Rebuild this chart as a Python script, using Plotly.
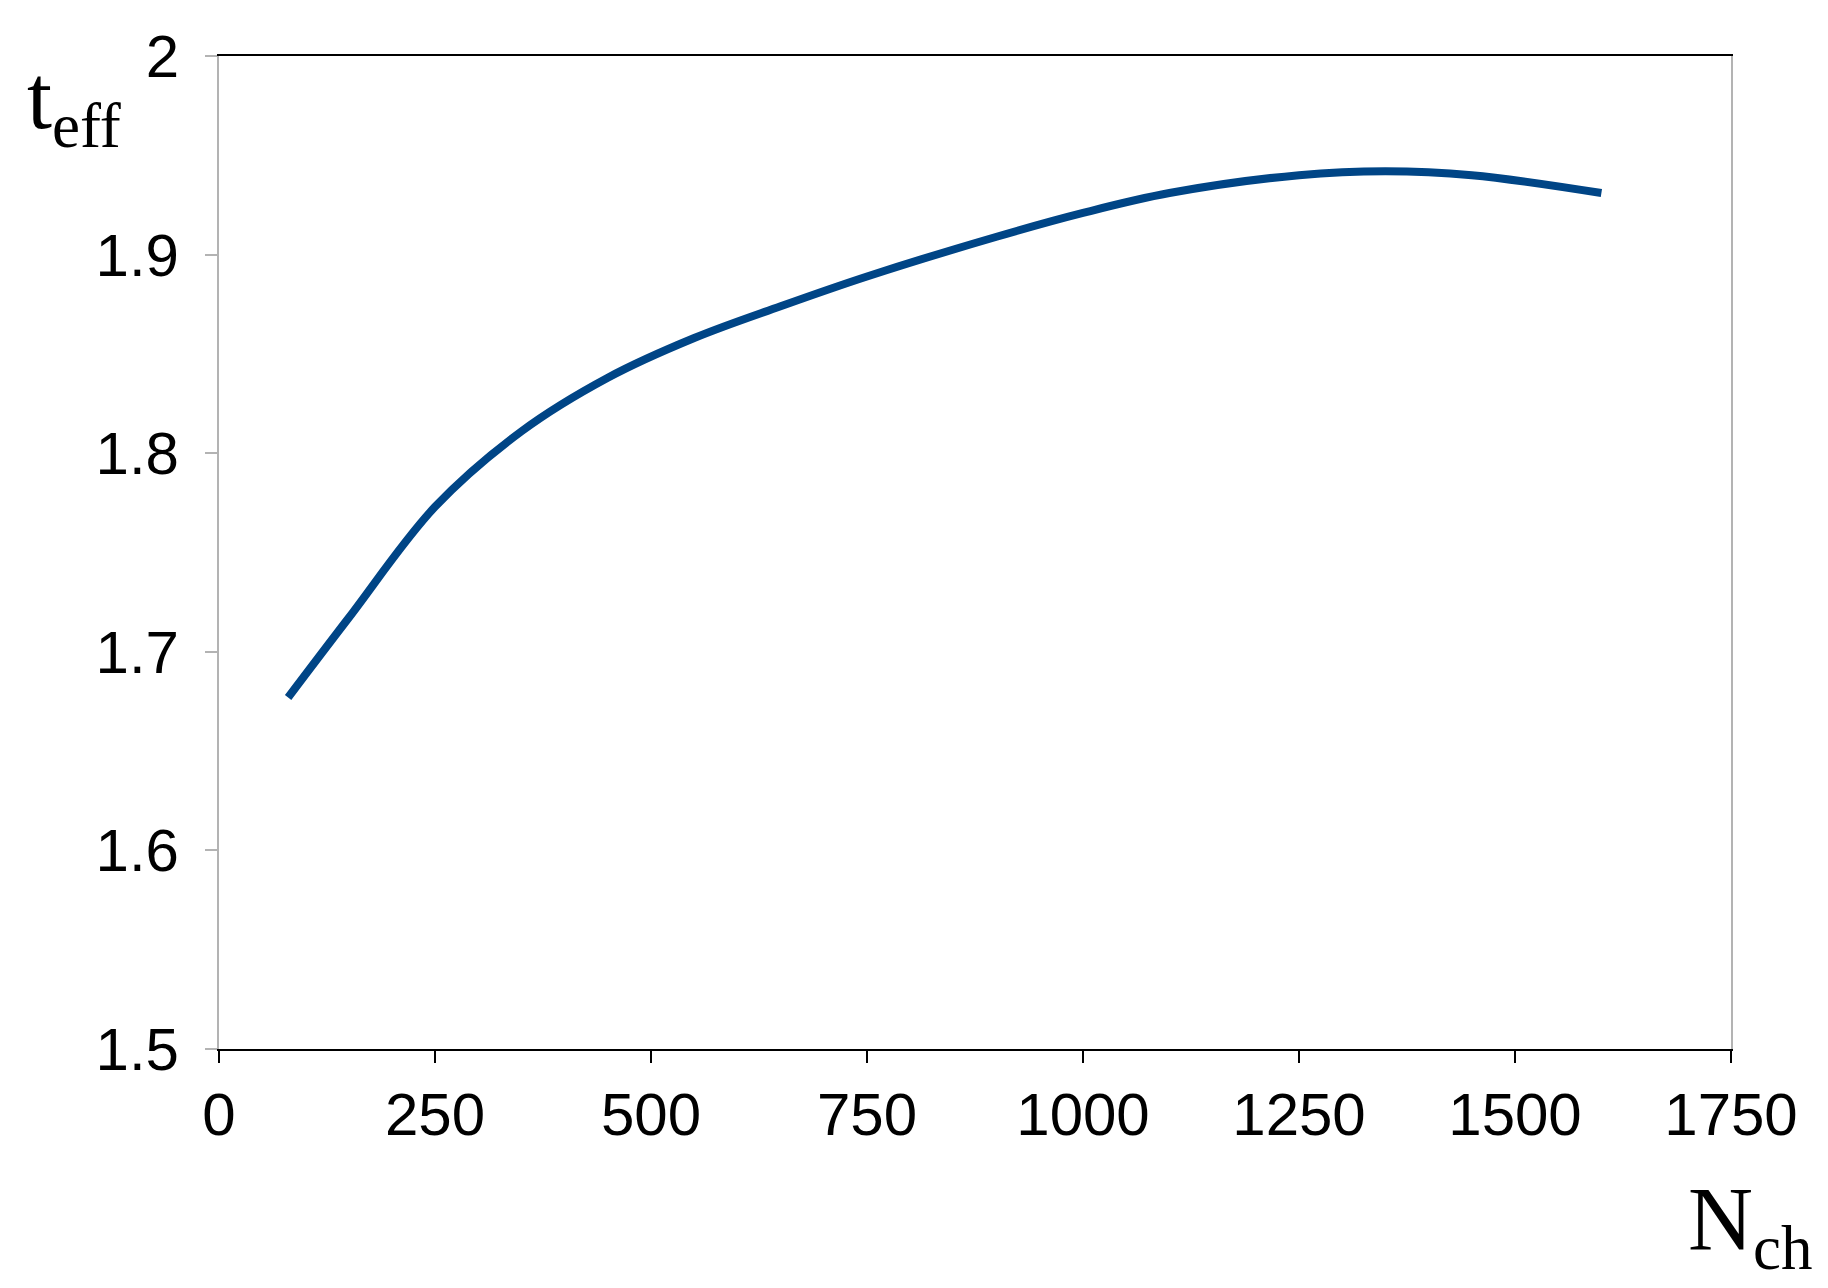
import plotly.graph_objects as go

n_ch = [80, 150, 250, 350, 450, 550, 650, 750, 900, 1000, 1100, 1250, 1350, 1450, 1600]
t_eff = [1.677, 1.717, 1.773, 1.811, 1.838, 1.858, 1.874, 1.889, 1.909, 1.921, 1.931, 1.940, 1.942, 1.940, 1.931]
x_ticks = [0, 250, 500, 750, 1000, 1250, 1500, 1750]
y_ticks = [1.5, 1.6, 1.7, 1.8, 1.9, 2]

fig = go.Figure(go.Scatter(x=n_ch, y=t_eff, mode="lines", line=dict(color="#004586", width=8, shape="spline", smoothing=1.0), showlegend=False))
axis_common = dict(showline=True, linecolor="#b3b3b3", linewidth=2, showgrid=False, zeroline=False, ticks="outside", ticklen=12, tickcolor="#b3b3b3", tickwidth=2, tickfont=dict(family="Liberation Sans", size=60, color="black"), mirror=True)
fig.update_xaxes(range=[0, 1750], tickvals=x_ticks, **axis_common)
fig.update_yaxes(range=[1.5, 2], tickvals=y_ticks, ticklabelstandoff=14, **axis_common)
fig.update_xaxes(linecolor="black", tickcolor="black")
fig.update_layout(width=1828, height=1288, plot_bgcolor="white", paper_bgcolor="white",
                  margin=dict(l=211, r=105, t=48, b=247, autoexpand=False))
fig.add_annotation(text="t<sub>eff</sub>", xref="paper", yref="paper", x=-0.128, y=1.01, xanchor="left", yanchor="top", showarrow=False, font=dict(family="Liberation Serif", size=90, color="black"))
fig.add_annotation(text="N<sub>ch</sub>", xref="paper", yref="paper", x=1.055, y=-0.12, xanchor="right", yanchor="top", showarrow=False, font=dict(family="Liberation Serif", size=90, color="black"))
fig.write_html("out.html")
